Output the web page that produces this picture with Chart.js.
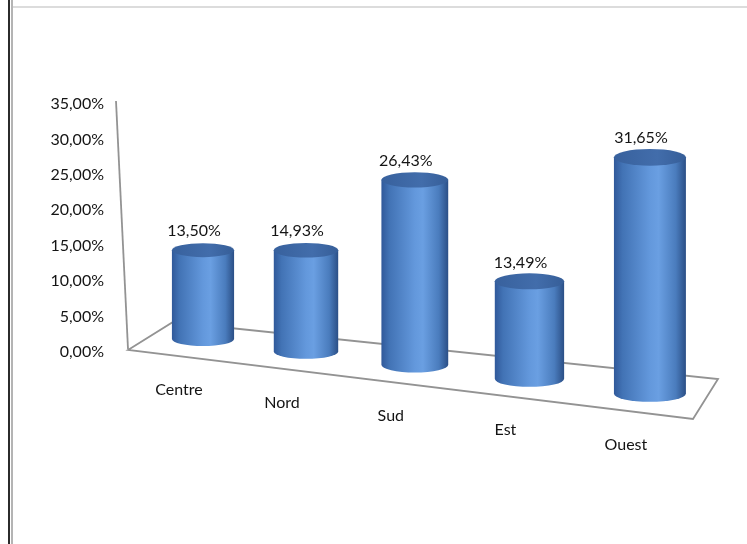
<!DOCTYPE html>
<html>
<head>
<meta charset="utf-8">
<script src="https://cdn.jsdelivr.net/npm/chart.js@4.4.3/dist/chart.umd.min.js"></script>
<style>
  html, body { margin: 0; padding: 0; background: #fff; }
  #wrap { width: 747px; height: 544px; position: relative; }
</style>
</head>
<body>
<div id="wrap"><canvas id="c"></canvas></div>
<script>
const regions = ['Centre', 'Nord', 'Sud', 'Est', 'Ouest'];
const shares = [13.50, 14.93, 26.43, 13.49, 31.65];
const yTicks = [0, 5, 10, 15, 20, 25, 30, 35];

const FONT = '16px Lato, "Open Sans", sans-serif';
const TEXT = '#141414';

const pct = v => v.toFixed(2).replace('.', ',') + '%';

// fake 3d: category position -> screen position on a floor that slopes down to the right
function persp(chart, i) {
    const xs = chart.scales.x, ys = chart.scales.y;
    const x0 = xs.getPixelForValue(0);
    const step = xs.getPixelForValue(1) - x0;
    const u = i;
    const sx = x0 + step * (0.8936 * u + 0.026 * u * u);
    const dx = sx - x0;
    const base = ys.getPixelForValue(0) - 13 + 0.122 * dx;
    return {
        sx: sx,
        base: base,
        k: 0.929 + 0.000278 * dx,
        w: step * (0.555 + 0.000196 * dx),
        ry: 7 + 0.003 * dx
    };
}

const cylinders = {
    id: 'cylinders',
    beforeDraw(chart) {
        const ctx = chart.ctx;
        ctx.save();
        // page frame from the source document
        ctx.fillStyle = '#2b2b2b';
        ctx.fillRect(8, 0, 2, chart.height);
        ctx.fillStyle = '#b4b4b4';
        ctx.fillRect(11, 0, 2, chart.height);
        ctx.fillStyle = '#dcdcdc';
        ctx.fillRect(13, 6, chart.width - 13, 2);
        ctx.restore();
    },
    beforeDatasetsDraw(chart) {
        const ctx = chart.ctx, ca = chart.chartArea, ys = chart.scales.y;
        const y0 = ys.getPixelForValue(0), yTop = ys.getPixelForValue(35);
        ctx.save();
        ctx.strokeStyle = '#939393';
        ctx.lineWidth = 1.8;
        // value axis (leaning back)
        ctx.beginPath();
        ctx.moveTo(ca.left - 19, y0 - 3);
        ctx.lineTo(ca.left - 31, yTop - 3);
        ctx.stroke();
        // floor
        ctx.beginPath();
        ctx.moveTo(ca.left - 19, y0 - 2);
        ctx.lineTo(ca.left + 26, y0 - 30);
        ctx.lineTo(ca.right + 11, y0 + 27);
        ctx.lineTo(ca.right - 14, y0 + 67);
        ctx.closePath();
        ctx.stroke();
        ctx.restore();
    },
    afterDatasetsDraw(chart) {
        const ctx = chart.ctx;
        const meta = chart.getDatasetMeta(0);
        ctx.save();
        meta.data.forEach((el, i) => {
            const p = persp(chart, i);
            const h = (el.base - el.y) * p.k;
            const top = p.base - h;
            const l = p.sx - p.w / 2, r = p.sx + p.w / 2;

            const g = ctx.createLinearGradient(l, 0, r, 0);
            g.addColorStop(0, '#30599a');
            g.addColorStop(0.12, '#4273b5');
            g.addColorStop(0.5, '#6398dc');
            g.addColorStop(0.62, '#6a9fe2');
            g.addColorStop(0.86, '#4a7cbd');
            g.addColorStop(1, '#2b4f86');
            ctx.fillStyle = g;
            ctx.beginPath();
            ctx.moveTo(l, top);
            ctx.lineTo(l, p.base);
            ctx.ellipse(p.sx, p.base, p.w / 2, p.ry, 0, Math.PI, 0, true);
            ctx.lineTo(r, top);
            ctx.closePath();
            ctx.fill();

            const gt = ctx.createLinearGradient(l, 0, r, 0);
            gt.addColorStop(0, '#38619d');
            gt.addColorStop(0.6, '#426dab');
            gt.addColorStop(1, '#365e98');
            ctx.fillStyle = gt;
            ctx.beginPath();
            ctx.ellipse(p.sx, top, p.w / 2, p.ry, 0, 0, Math.PI * 2);
            ctx.fill();

            ctx.font = FONT;
            ctx.fillStyle = TEXT;
            ctx.textAlign = 'center';
            ctx.textBaseline = 'middle';
            ctx.fillText(pct(shares[i]), p.sx - 9, top - 19);
            ctx.fillText(regions[i], p.sx - 24, p.base + 51);
        });
        ctx.restore();
    }
};

new Chart(document.getElementById('c'), {
    type: 'bar',
    data: {
        labels: regions,
        datasets: [{
            data: shares,
            backgroundColor: 'rgba(0,0,0,0)',
            borderWidth: 0
        }]
    },
    options: {
        responsive: true,
        maintainAspectRatio: false,
        animation: false,
        layout: { padding: { top: 104, right: 40, bottom: 192, left: 0 } },
        plugins: { legend: { display: false }, tooltip: { enabled: false } },
        scales: {
            x: { display: false },
            y: {
                min: 0,
                max: 35,
                afterFit: s => { s.width = 147; },
                afterBuildTicks: s => { s.ticks = yTicks.map(v => ({ value: v })); },
                grid: { display: false, drawTicks: false },
                border: { display: false },
                ticks: {
                    padding: 43,
                    color: TEXT,
                    font: { family: 'Lato, "Open Sans", sans-serif', size: 16 },
                    callback: v => pct(v)
                }
            }
        }
    },
    plugins: [cylinders]
});
</script>
</body>
</html>
